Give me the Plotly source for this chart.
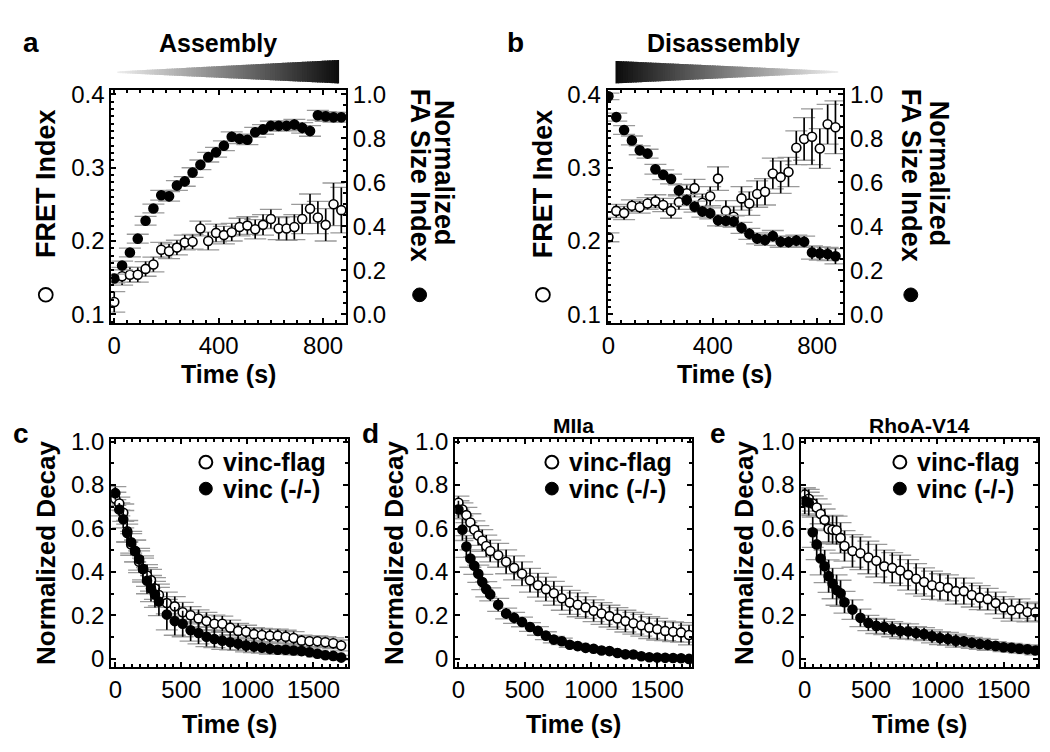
import plotly.graph_objects as go

W, H = 1050, 752
FONT = "Liberation Sans, Arial, Helvetica, sans-serif"

# ---------------- data ----------------
t_ab = [0, 30, 60, 90, 120, 150, 180, 210, 240, 270, 300, 330, 360, 390, 420,
        450, 480, 510, 540, 570, 600, 630, 660, 690, 720, 750, 780, 810, 840, 870]

a_fret = [0.117, 0.152, 0.154, 0.154, 0.162, 0.168, 0.188, 0.186, 0.191, 0.198,
          0.199, 0.217, 0.200, 0.211, 0.208, 0.212, 0.219, 0.221, 0.216, 0.222,
          0.230, 0.217, 0.217, 0.219, 0.230, 0.244, 0.232, 0.222, 0.250, 0.242]
a_fret_err = [0.014, 0.012, 0.010, 0.010, 0.010, 0.010, 0.010, 0.010, 0.010, 0.010,
              0.010, 0.010, 0.012, 0.012, 0.012, 0.012, 0.012, 0.012, 0.013, 0.014,
              0.013, 0.015, 0.016, 0.017, 0.020, 0.020, 0.022, 0.022, 0.029, 0.031]
a_size = [0.163, 0.222, 0.281, 0.344, 0.425, 0.481, 0.541, 0.536, 0.585, 0.604,
          0.644, 0.679, 0.714, 0.736, 0.766, 0.807, 0.797, 0.793, 0.827, 0.840,
          0.856, 0.856, 0.856, 0.862, 0.847, 0.833, 0.904, 0.899, 0.895, 0.895]
a_size_err = [0.020, 0.020, 0.020, 0.020, 0.020, 0.020, 0.022, 0.022, 0.022, 0.022,
              0.022, 0.022, 0.022, 0.022, 0.022, 0.022, 0.022, 0.022, 0.022, 0.022,
              0.022, 0.022, 0.022, 0.024, 0.024, 0.024, 0.022, 0.022, 0.022, 0.022]

b_fret = [0.205, 0.241, 0.238, 0.248, 0.246, 0.251, 0.254, 0.249, 0.241, 0.253,
          0.265, 0.272, 0.252, 0.261, 0.285, 0.241, 0.233, 0.258, 0.251, 0.264,
          0.267, 0.292, 0.287, 0.294, 0.327, 0.339, 0.342, 0.326, 0.359, 0.355]
b_fret_err = [0.006, 0.009, 0.009, 0.008, 0.008, 0.008, 0.009, 0.009, 0.010, 0.010,
              0.012, 0.012, 0.012, 0.013, 0.016, 0.014, 0.014, 0.016, 0.016, 0.018,
              0.018, 0.021, 0.022, 0.020, 0.023, 0.029, 0.038, 0.027, 0.027, 0.036]
b_size = [0.990, 0.896, 0.837, 0.790, 0.745, 0.730, 0.659, 0.634, 0.615, 0.563,
          0.519, 0.489, 0.467, 0.459, 0.427, 0.425, 0.422, 0.393, 0.366, 0.345,
          0.338, 0.356, 0.330, 0.329, 0.335, 0.330, 0.281, 0.277, 0.274, 0.264]
b_size_err = [0.015, 0.018, 0.020, 0.020, 0.020, 0.020, 0.022, 0.022, 0.022, 0.025,
              0.025, 0.025, 0.025, 0.025, 0.025, 0.025, 0.025, 0.025, 0.025, 0.025,
              0.025, 0.025, 0.025, 0.025, 0.025, 0.025, 0.030, 0.030, 0.030, 0.035]

t_c = [0, 30, 60, 90, 120, 150, 180, 210, 240, 270, 300, 330, 390, 450, 510, 570,
       630, 690, 750, 810, 870, 930, 990, 1050, 1110, 1170, 1230, 1290, 1350, 1410,
       1470, 1530, 1590, 1650, 1710]
c_flag = [0.737, 0.715, 0.673, 0.587, 0.527, 0.497, 0.447, 0.414, 0.384, 0.362,
          0.324, 0.294, 0.257, 0.242, 0.215, 0.201, 0.186, 0.174, 0.162, 0.162,
          0.144, 0.129, 0.125, 0.114, 0.110, 0.107, 0.107, 0.102, 0.096, 0.084,
          0.081, 0.081, 0.077, 0.072, 0.062]
c_flag_err = [0.03, 0.03, 0.04, 0.05, 0.05, 0.05, 0.05, 0.05, 0.05, 0.05, 0.05, 0.05,
              0.05, 0.045, 0.045, 0.04, 0.04, 0.04, 0.04, 0.035, 0.035, 0.035, 0.03,
              0.03, 0.03, 0.03, 0.03, 0.03, 0.03, 0.025, 0.025, 0.025, 0.025, 0.025, 0.025]
c_null = [0.763, 0.688, 0.643, 0.580, 0.537, 0.497, 0.459, 0.414, 0.360, 0.324,
          0.297, 0.264, 0.204, 0.174, 0.162, 0.132, 0.119, 0.102, 0.092, 0.084,
          0.077, 0.070, 0.062, 0.057, 0.052, 0.047, 0.042, 0.042, 0.039, 0.036,
          0.031, 0.024, 0.017, 0.014, 0.006]
c_null_err = [0.03, 0.03, 0.04, 0.04, 0.05, 0.05, 0.05, 0.06, 0.06, 0.06, 0.06, 0.065,
              0.07, 0.065, 0.06, 0.05, 0.05, 0.045, 0.04, 0.04, 0.035, 0.03, 0.03,
              0.028, 0.025, 0.025, 0.02, 0.02, 0.02, 0.018, 0.015, 0.015, 0.012, 0.012, 0.01]

t_d = [0, 30, 60, 90, 120, 150, 180, 210, 240, 300, 360, 420, 480, 540, 600, 660,
       720, 780, 840, 900, 960, 1020, 1080, 1140, 1200, 1260, 1320, 1380, 1440, 1500,
       1560, 1620, 1680, 1740]
d_flag = [0.719, 0.688, 0.662, 0.628, 0.595, 0.568, 0.545, 0.520, 0.497, 0.477,
          0.447, 0.419, 0.392, 0.362, 0.339, 0.321, 0.302, 0.279, 0.260, 0.249,
          0.237, 0.222, 0.209, 0.197, 0.186, 0.174, 0.164, 0.155, 0.144, 0.137,
          0.129, 0.125, 0.122, 0.110]
d_flag_err = [0.03, 0.03, 0.035, 0.04, 0.04, 0.045, 0.05, 0.05, 0.05, 0.055, 0.055,
              0.055, 0.055, 0.055, 0.055, 0.055, 0.055, 0.055, 0.055, 0.055, 0.05, 0.05,
              0.05, 0.05, 0.05, 0.05, 0.05, 0.05, 0.05, 0.05, 0.045, 0.045, 0.045, 0.045]
d_null = [0.688, 0.595, 0.517, 0.462, 0.429, 0.392, 0.354, 0.321, 0.297, 0.249,
          0.209, 0.189, 0.170, 0.147, 0.129, 0.107, 0.089, 0.081, 0.065, 0.059,
          0.051, 0.047, 0.039, 0.036, 0.027, 0.021, 0.020, 0.012, 0.008, 0.006,
          0.005, 0.004, 0.003, 0.000]
d_null_err = [0.04, 0.05, 0.05, 0.04, 0.04, 0.04, 0.035, 0.035, 0.03, 0.03, 0.025,
              0.025, 0.022, 0.02, 0.02, 0.018, 0.015, 0.015, 0.012, 0.012, 0.01, 0.01,
              0.01, 0.01, 0.008, 0.008, 0.008, 0.008, 0.008, 0.008, 0.008, 0.008, 0.008, 0.008]

t_e = [0, 30, 60, 90, 120, 150, 180, 210, 240, 270, 300, 360, 420, 480, 540, 600,
       660, 720, 780, 840, 900, 960, 1020, 1080, 1140, 1200, 1260, 1320, 1380, 1440,
       1500, 1560, 1620, 1680, 1740]
e_flag = [0.757, 0.737, 0.715, 0.697, 0.667, 0.640, 0.598, 0.595, 0.592, 0.557,
          0.520, 0.497, 0.486, 0.467, 0.452, 0.426, 0.419, 0.407, 0.387, 0.369,
          0.354, 0.339, 0.332, 0.327, 0.312, 0.312, 0.294, 0.282, 0.275, 0.257,
          0.237, 0.224, 0.231, 0.216, 0.215]
e_flag_err = [0.03, 0.03, 0.035, 0.04, 0.045, 0.05, 0.06, 0.065, 0.065, 0.07, 0.07,
              0.075, 0.075, 0.075, 0.075, 0.075, 0.07, 0.07, 0.07, 0.07, 0.065, 0.065,
              0.06, 0.06, 0.06, 0.06, 0.055, 0.055, 0.05, 0.05, 0.05, 0.05, 0.045, 0.045, 0.04]
e_null = [0.727, 0.720, 0.583, 0.527, 0.462, 0.426, 0.381, 0.347, 0.317, 0.302,
          0.261, 0.227, 0.189, 0.165, 0.152, 0.147, 0.137, 0.129, 0.126, 0.119,
          0.114, 0.104, 0.096, 0.092, 0.084, 0.081, 0.074, 0.069, 0.065, 0.060,
          0.054, 0.051, 0.047, 0.044, 0.039]
e_null_err = [0.06, 0.06, 0.07, 0.07, 0.075, 0.075, 0.075, 0.07, 0.07, 0.06, 0.05,
              0.045, 0.04, 0.035, 0.035, 0.035, 0.035, 0.035, 0.035, 0.03, 0.03, 0.03,
              0.03, 0.03, 0.03, 0.025, 0.025, 0.025, 0.025, 0.02, 0.02, 0.02, 0.02, 0.02, 0.02]

top_x_ticks = [0, 400, 800]
fret_ticks = [0.1, 0.2, 0.3, 0.4]
size_ticks = [0.0, 0.2, 0.4, 0.6, 0.8, 1.0]
bot_x_ticks = [0, 500, 1000, 1500]
decay_ticks = [0, 0.2, 0.4, 0.6, 0.8, 1.0]
decay_ticktext = ["0", "0.2", "0.4", "0.6", "0.8", "1.0"]


# ---------------- helpers ----------------
def px(x):
    return x / W


def py(y):
    return 1 - y / H


GRAY = "#9a9a9a"
fig = go.Figure()

series = [
    ("x", "y", t_ab, a_fret, a_fret_err, False),
    ("x", "y2", t_ab, a_size, a_size_err, True),
    ("x2", "y3", t_ab, b_fret, b_fret_err, False),
    ("x2", "y4", t_ab, b_size, b_size_err, True),
    ("x3", "y5", t_c, c_flag, c_flag_err, False),
    ("x3", "y5", t_c, c_null, c_null_err, True),
    ("x4", "y6", t_d, d_flag, d_flag_err, False),
    ("x4", "y6", t_d, d_null, d_null_err, True),
    ("x5", "y7", t_e, e_flag, e_flag_err, False),
    ("x5", "y7", t_e, e_null, e_null_err, True),
]

for xa, ya, t, v, err, filled in series:
    fig.add_trace(go.Scatter(
        x=t, y=v, xaxis=xa, yaxis=ya, mode="markers",
        marker=dict(size=9, color="rgba(0,0,0,0)"),
        error_y=dict(type="data", array=err, visible=True, color=GRAY,
                     thickness=1.3, width=11),
        showlegend=False, hoverinfo="skip"))
for xa, ya, t, v, err, filled in series:
    fig.add_trace(go.Scatter(
        x=t, y=v, xaxis=xa, yaxis=ya, mode="markers",
        marker=dict(size=9, color="black" if filled else "white",
                    line=dict(color="black", width=1.6)),
        error_y=dict(type="data", array=err, visible=True, color="black",
                     thickness=1.6, width=0),
        showlegend=False))


def ax(**kw):
    d = dict(showline=True, linecolor="black", linewidth=2, ticks="inside",
             ticklen=5, tickwidth=1.5, tickcolor="black", showgrid=False,
             zeroline=False, tickfont=dict(family=FONT, size=24, color="black"),
             fixedrange=True)
    d.update(kw)
    return d


TOP = (81, 319)
BOT = (437, 670)
dom_top = [py(TOP[1]), py(TOP[0])]
dom_bot = [py(BOT[1]), py(BOT[0])]
fret_range = [0.088, 0.4053]
size_range = [(fret_range[0] - 0.1) / 0.3, (fret_range[1] - 0.1) / 0.3]
decay_range = [-0.036, 1.0135]

xminor_top = dict(ticks="inside", dtick=50, tick0=0, ticklen=3, tickcolor="black")
xminor_bot = dict(ticks="inside", dtick=62.5, tick0=0, ticklen=3, tickcolor="black")

fig.update_layout(
    width=W, height=H, margin=dict(l=0, r=0, t=0, b=0),
    paper_bgcolor="white", plot_bgcolor="white",
    font=dict(family=FONT, color="black"),
    xaxis=ax(domain=[px(106), px(342)], range=[-11, 888], tickvals=top_x_ticks,
             mirror="ticks", anchor="y", minor=xminor_top),
    yaxis=ax(domain=dom_top, range=fret_range, tickvals=fret_ticks, anchor="x",
             minor=dict(ticks="inside", dtick=0.01, ticklen=3, tickcolor="black")),
    yaxis2=ax(domain=dom_top, range=size_range, tickvals=size_ticks, tickformat=".1f",
              overlaying="y", side="right", anchor="x",
              minor=dict(ticks="inside", dtick=0.05, ticklen=3, tickcolor="black")),
    xaxis2=ax(domain=[px(605), px(842)], range=[-3.4, 899.6], tickvals=top_x_ticks,
              mirror="ticks", anchor="y3", minor=xminor_top),
    yaxis3=ax(domain=dom_top, range=fret_range, tickvals=fret_ticks, anchor="x2",
              minor=dict(ticks="inside", dtick=0.01, ticklen=3, tickcolor="black")),
    yaxis4=ax(domain=dom_top, range=size_range, tickvals=size_ticks, tickformat=".1f",
              overlaying="y3", side="right", anchor="x2",
              minor=dict(ticks="inside", dtick=0.05, ticklen=3, tickcolor="black")),
    xaxis3=ax(domain=[px(105.7), px(344)], range=[-32, 1762], tickvals=bot_x_ticks,
              mirror="ticks", anchor="y5", minor=xminor_bot),
    yaxis5=ax(domain=dom_bot, range=decay_range, tickvals=decay_ticks,
              ticktext=decay_ticktext, mirror="ticks", anchor="x3",
              minor=dict(ticks="inside", dtick=0.1, ticklen=3, tickcolor="black")),
    xaxis4=ax(domain=[px(451.7), px(690)], range=[-25, 1763], tickvals=bot_x_ticks,
              mirror="ticks", anchor="y6", minor=xminor_bot),
    yaxis6=ax(domain=dom_bot, range=decay_range, tickvals=decay_ticks,
              ticktext=decay_ticktext, mirror="ticks", anchor="x4",
              minor=dict(ticks="inside", dtick=0.1, ticklen=3, tickcolor="black")),
    xaxis5=ax(domain=[px(800), px(1038)], range=[-25, 1760], tickvals=bot_x_ticks,
              mirror="ticks", anchor="y7", minor=xminor_bot),
    yaxis7=ax(domain=dom_bot, range=decay_range, tickvals=decay_ticks,
              ticktext=decay_ticktext, mirror="ticks", anchor="x5",
              minor=dict(ticks="inside", dtick=0.1, ticklen=3, tickcolor="black")),
)

annotations = []


def text(x, y, s, size=26, bold=True, angle=0, xanchor="center"):
    annotations.append(dict(
        x=px(x), y=py(y), xref="paper", yref="paper", showarrow=False,
        text=f"<b>{s}</b>" if bold else s, textangle=angle, xanchor=xanchor,
        yanchor="middle", font=dict(family=FONT, size=size, color="black")))


text(25, 32, "a", 28)
text(213, 33, "Assembly", 25)
text(512, 32, "b", 28)
text(722, 33, "Disassembly", 25)
text(15, 432, "c", 28)
text(367, 432, "d", 28)
text(716, 432, "e", 28)
text(571, 424, "MIIa", 21)
text(919, 424, "RhoA-V14", 21)

shapes = []


def circle(cx, cy, r, filled, lw=2):
    shapes.append(dict(type="circle", xref="paper", yref="paper",
                       x0=px(cx - r), x1=px(cx + r), y0=py(cy + r), y1=py(cy - r),
                       line=dict(color="black", width=lw),
                       fillcolor="black" if filled else "white"))


for x0, xr1, xr2, xt in [(40, 416, 440, 224), (540, 910, 938, 723)]:
    text(x0, 176, "FRET Index", 27, angle=-90)
    circle(x0, 290, 7, False, 1.8)
    text(xr1, 168, "FA Size Index", 27, angle=90)
    circle(xr1, 290, 7, True, 1)
    text(xr2, 166, "Normalized", 27, angle=90)
    text(xt, 371, "Time (s)", 25)

for xl, xt in [(40, 225), (390, 571), (742, 919)]:
    text(xl, 553, "Normalized Decay", 26, angle=-90)
    text(xt, 728, "Time (s)", 25)

for off in [0, 348, 698]:
    text(216 + off, 461, "vinc-flag", 25, xanchor="left")
    text(216 + off, 488, "vinc (-/-)", 25, xanchor="left")
    circle(201 + off, 461, 6.5, False, 2)
    circle(201 + off, 488, 6.5, True, 1)


def wedge(x0, x1, yt0, yb0, yt1, yb1, c0, c1, n=90):
    for i in range(n):
        f0, f1 = i / n, min(1.0, (i + 1.6) / n)
        xa, xb = x0 + (x1 - x0) * f0, x0 + (x1 - x0) * f1
        ta, tb = yt0 + (yt1 - yt0) * f0, yt0 + (yt1 - yt0) * f1
        ba, bb = yb0 + (yb1 - yb0) * f0, yb0 + (yb1 - yb0) * f1
        fm = (i + 0.5) / n
        c = int(round(c0 + (c1 - c0) * fm))
        col = f"rgb({c},{c},{c})"
        path = (f"M {px(xa)},{py(ta)} L {px(xb)},{py(tb)} "
                f"L {px(xb)},{py(bb)} L {px(xa)},{py(ba)} Z")
        shapes.append(dict(type="path", xref="paper", yref="paper", path=path,
                           fillcolor=col, line=dict(width=0)))


wedge(112, 335, 61.7, 63.3, 50, 74, 238, 12)
wedge(613, 837, 51, 74, 61.5, 63, 12, 238)

fig.update_layout(annotations=annotations, shapes=shapes)

fig.write_html("out.html", config={"displayModeBar": False},
               post_script="document.body.style.margin='0';")
